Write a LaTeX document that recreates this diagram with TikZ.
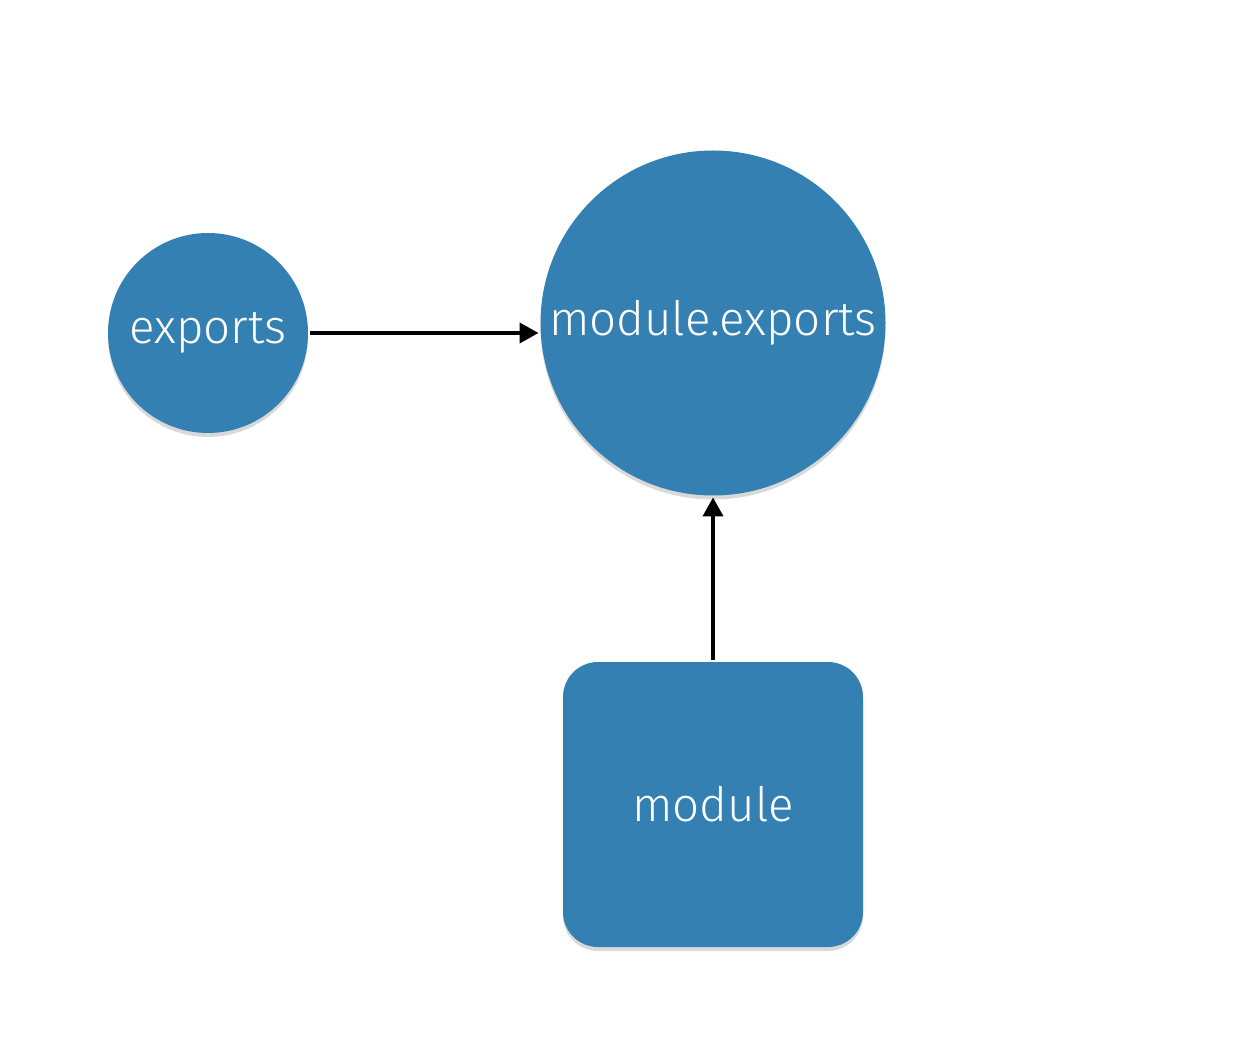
\documentclass[tikz,border=0pt]{standalone}
\usepackage{fontspec}
\setmainfont{Fira Sans Light}
\usepackage{tikz}
\usetikzlibrary{positioning, arrows.meta, shadows}
\definecolor{nodeblue}{RGB}{53,128,178}
\tikzset{
    every picture/.style={line width=2.2pt}, % thick black connectors
    ->/.style={-{Triangle[length=0.38cm, width=0.4cm]}}, % filled arrow heads
    ball/.style={circle, fill=nodeblue, text=white, inner sep=0pt, font=\fontsize{27}{32}\selectfont,
        drop shadow={shadow xshift=0cm, shadow yshift=-0.08cm, opacity=0.3}}, % round nodes
    card/.style={rectangle, rounded corners=0.7cm, fill=nodeblue, text=white, font=\fontsize{27}{32}\selectfont,
        drop shadow={shadow xshift=0cm, shadow yshift=-0.08cm, opacity=0.3}}, % the module box
    }
\begin{document}
\begin{tikzpicture}
\useasboundingbox (0,0) rectangle (25,-21.2);
\node[ball, minimum size=4cm] (exports) at (4.16,-6.66) {exports};
\node[ball, minimum size=6.9cm] (mexp) at (14.26,-6.46) {module.exports};
\node[card, minimum width=6cm, minimum height=5.7cm] (module) at (14.26,-16.09) {module};

\draw[->] (exports.east) -- (exports.east -| mexp.west);
\draw[->] (module) -- (mexp);
\end{tikzpicture}
\end{document}
